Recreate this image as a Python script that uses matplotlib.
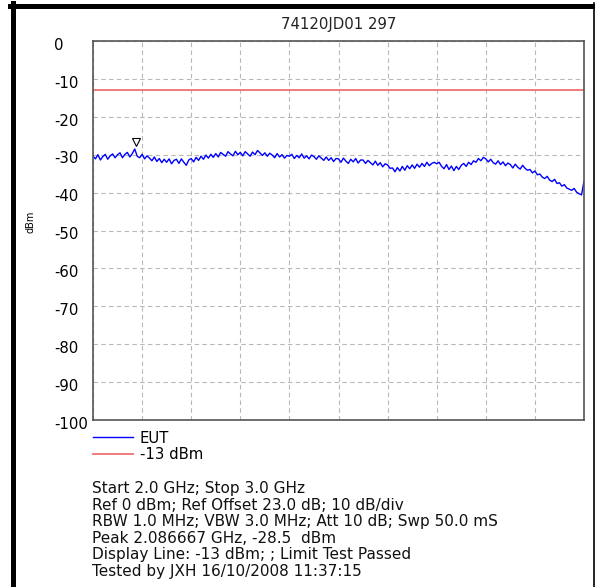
import numpy as np
import matplotlib
matplotlib.use("Agg")
import matplotlib.pyplot as plt
from matplotlib.lines import Line2D
from matplotlib import transforms

plt.rcParams['font.family'] = ['DejaVu Sans']
plt.rcParams['axes.unicode_minus'] = False

# sweep settings
f_start = 2.0
f_stop = 3.0
n_points = 201

# trace levels (dBm), 0.005 GHz apart
eut_dbm = [
    -30.4, -31.1, -30.0, -31.4, -30.5, -29.9, -31.2, -30.3, -29.8, -30.8,
    -30.0, -29.5, -30.8, -29.9, -29.4, -30.6, -29.7, -28.5, -30.4, -30.8,
    -29.9, -31.1, -30.3, -30.9, -31.6, -30.6, -31.8, -31.0, -32.1, -31.2,
    -32.0, -31.1, -32.4, -31.5, -31.2, -32.3, -31.1, -32.0, -32.8, -31.4,
    -31.0, -31.9, -30.7, -31.5, -30.4, -31.2, -30.1, -30.9, -29.9, -30.7,
    -29.7, -30.6, -29.4, -29.9, -30.4, -29.2, -29.8, -30.3, -29.1, -30.0,
    -29.4, -30.3, -29.2, -29.8, -30.4, -29.3, -30.0, -28.9, -29.5, -30.2,
    -29.5, -30.4, -29.6, -30.1, -30.8, -29.7, -30.6, -30.0, -30.9, -30.2,
    -30.4, -29.9, -31.0, -30.2, -30.8, -29.8, -30.9, -30.3, -31.1, -30.1,
    -30.5, -31.2, -30.3, -30.9, -31.5, -30.6, -31.5, -30.8, -31.8, -31.0,
    -31.1, -32.0, -30.9, -31.7, -32.3, -31.2, -31.9, -31.0, -32.2, -31.4,
    -31.4, -32.3, -31.5, -32.1, -32.7, -31.7, -32.8, -32.1, -33.2, -32.4,
    -32.7, -33.6, -33.5, -34.5, -33.4, -34.3, -33.1, -34.1, -32.9, -33.7,
    -32.7, -33.6, -32.5, -33.3, -32.3, -33.1, -32.0, -32.9, -32.3, -32.0,
    -32.4, -32.0, -33.1, -33.7, -32.6, -33.9, -33.0, -34.2, -33.1, -33.9,
    -32.8, -32.3, -33.1, -32.0, -32.6, -31.6, -32.0, -31.0, -31.6, -30.7,
    -31.1, -31.9, -31.2, -32.1, -32.5, -31.6, -32.6, -31.9, -32.9, -32.2,
    -32.6, -33.5, -32.5, -33.3, -33.8, -32.8, -33.6, -34.1, -33.9, -34.8,
    -34.3, -35.3, -35.1, -35.9, -36.3, -35.7, -36.7, -37.1, -36.5, -37.6,
    -37.4, -38.3, -37.9, -38.8, -39.1, -39.4, -38.9, -39.9, -40.3, -40.6,
    -37.0,
]

limit_dbm = -13
peak_ghz = 2.086667
peak_dbm = -28.5
y_ticks = [0, -10, -20, -30, -40, -50, -60, -70, -80, -90, -100]

info_lines = [
    "Start 2.0 GHz; Stop 3.0 GHz",
    "Ref 0 dBm; Ref Offset 23.0 dB; 10 dB/div",
    "RBW 1.0 MHz; VBW 3.0 MHz; Att 10 dB; Swp 50.0 mS",
    "Peak 2.086667 GHz, -28.5  dBm",
    "Display Line: -13 dBm; ; Limit Test Passed",
    "Tested by JXH 16/10/2008 11:37:15",
]

freq = np.linspace(f_start, f_stop, n_points)

fig = plt.figure(figsize=(5.95, 5.87), dpi=100)
ax = fig.add_axes([93 / 595, 1 - 420 / 587, 491 / 595, 379 / 587])

ax.plot(freq, eut_dbm, color='#0000ff', lw=1.0, label='EUT')
ax.axhline(limit_dbm, color='#f07070', lw=1.3, label='-13 dBm')

# peak marker sits just above the trace
mk_tr = transforms.offset_copy(ax.transData, fig=fig, x=0, y=5, units='points')
ax.plot([peak_ghz], [peak_dbm], marker='v', ms=6, mfc='white', mec='black',
        mew=0.8, ls='none', transform=mk_tr)

ax.set_xlim(f_start, f_stop)
ax.set_ylim(-100, 0)
ax.set_xticks(np.linspace(f_start, f_stop, 11))
ax.set_xticklabels([])
ax.set_yticks(y_ticks)
ax.set_yticklabels([str(t) for t in y_ticks], ha='left')
ax.tick_params(length=0, labelsize=10.7, pad=28)
ax.grid(True, color='#b8b8b8', ls=(0, (4, 3)), lw=0.8)
for s in ax.spines.values():
    s.set_color('#555555')
    s.set_linewidth(1.2)

# tick labels sit a little below their grid line
off = transforms.ScaledTranslation(0, -2 / 72, fig.dpi_scale_trans)
for lab in ax.get_yticklabels():
    lab.set_transform(lab.get_transform() + off)

ax.set_title("74120JD01 297", fontsize=10.7, pad=9, color='#222222')
fig.text(30 / 595, 1 - 222 / 587, "dBm", rotation=90, fontsize=7,
         ha='center', va='center')

ax.legend(loc='upper left', bbox_to_anchor=(0, -0.028), frameon=False,
          fontsize=10.7, handlelength=2.7, handletextpad=0.45, borderaxespad=0,
          borderpad=0, labelspacing=0.1)

fig.text(92 / 595, 1 - 481 / 587, "\n".join(info_lines), fontsize=11,
         va='top', ha='left', linespacing=1.13, color='#111111')

# window frame
fig.add_artist(Line2D([12.5 / 595, 12.5 / 595], [0, 1 - 3 / 587],
                      transform=fig.transFigure, color='black', lw=3.6))
fig.add_artist(Line2D([10 / 595, 594 / 595], [1 - 5.5 / 587, 1 - 5.5 / 587],
                      transform=fig.transFigure, color='black', lw=3.6))
fig.add_artist(Line2D([593.5 / 595, 593.5 / 595], [0, 1 - 3 / 587],
                      transform=fig.transFigure, color='black', lw=1.2))

fig.savefig("out.png", dpi=100)
